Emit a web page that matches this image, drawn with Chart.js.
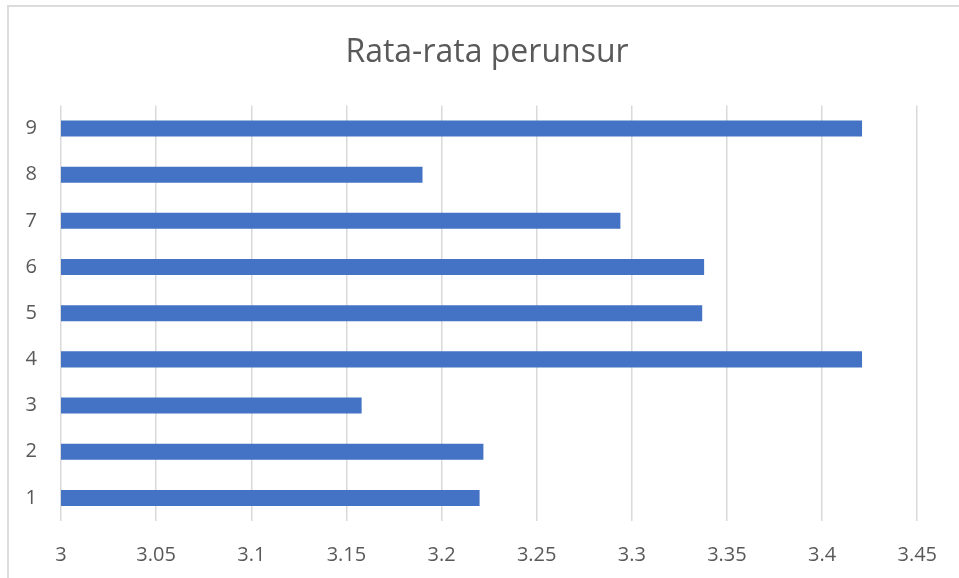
<!DOCTYPE html>
<html>
<head>
<meta charset="utf-8">
<script src="https://cdn.jsdelivr.net/npm/chart.js@4/dist/chart.umd.min.js"></script>
<style>
  html, body { margin: 0; padding: 0; overflow: hidden; background: #fff; }
  #frame {
    position: absolute; left: 7px; top: 5px; width: 1000px; height: 1000px;
    border: 2px solid #dcdcdc; box-sizing: border-box;
  }
  #chart { position: absolute; left: 0; top: 0; }
</style>
</head>
<body>
<div id="frame"></div>
<canvas id="chart" width="959" height="578"></canvas>
<script>
// Data
const categories = ['1', '2', '3', '4', '5', '6', '7', '8', '9'];
const averages = [3.220, 3.222, 3.158, 3.421, 3.337, 3.338, 3.294, 3.190, 3.421];
const axisMin = 3;
const axisMax = 3.45;
const axisStep = 0.05;

const textColor = '#595959';
const gridColor = '#d9d9d9';

const ctx = document.getElementById('chart').getContext('2d');
new Chart(ctx, {
    type: 'bar',
    data: {
        labels: categories,
        datasets: [{
            label: 'Rata-rata',
            data: averages,
            backgroundColor: '#4472c4',
            borderWidth: 0,
            barPercentage: 0.347,
            categoryPercentage: 1
        }]
    },
    options: {
        indexAxis: 'y',
        responsive: false,
        animation: false,
        layout: { padding: { top: 0, right: 0, bottom: 12, left: 15 } },
        scales: {
            x: {
                min: axisMin,
                max: axisMax,
                border: { display: false },
                grid: { color: gridColor, lineWidth: 1.5, drawTicks: false },
                ticks: {
                    stepSize: axisStep,
                    padding: 22,
                    maxRotation: 0,
                    color: textColor,
                    font: { family: 'Open Sans', size: 20 },
                    callback: (v) => +v.toFixed(2)
                },
                afterFit: (scale) => { scale.height = 45; }
            },
            y: {
                reverse: true,
                border: { display: false },
                grid: { display: false, drawTicks: false },
                ticks: {
                    padding: 24,
                    color: textColor,
                    font: { family: 'Open Sans', size: 20 }
                },
                afterFit: (scale) => { scale.width = 46; }
            },
            // empty right axis, only keeps the plot clear of the right edge
            yRight: {
                type: 'linear',
                position: 'right',
                border: { display: false },
                grid: { display: false, drawTicks: false },
                ticks: { display: false },
                afterFit: (scale) => { scale.width = 40; }
            }
        },
        plugins: {
            legend: { display: false },
            tooltip: { enabled: false },
            title: {
                display: true,
                text: 'Rata-rata perunsur',
                color: textColor,
                font: { family: 'Open Sans', size: 32, weight: 'normal' },
                padding: { top: 34, bottom: 33 }
            }
        }
    }
});
</script>
</body>
</html>
